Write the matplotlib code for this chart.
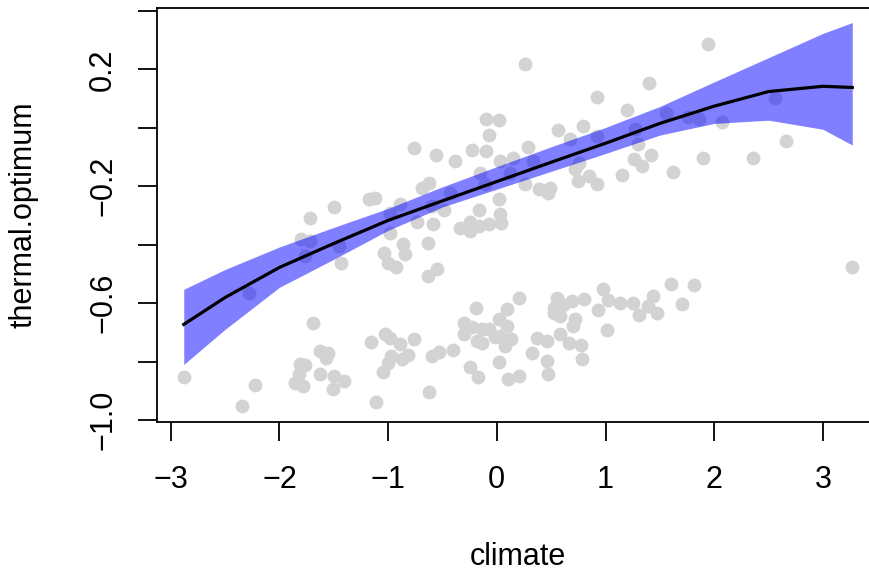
import numpy as np
import matplotlib
matplotlib.use("Agg")
from matplotlib import pyplot as plt

# observed points, upper group (around the fitted curve)
upper_climate = [
    -1.72, -1.50, -1.18, -1.12, -0.89, -1.80, -1.72, -1.76, -1.45, -1.43,
    -2.28, -1.04, -1.00, -0.93, -0.98, -0.86, -0.84, -0.98,
    0.26, 0.92, 1.40, 1.20, -0.10, 0.02, -0.07, -0.76, -0.56, -0.38,
    -0.23, -0.10, 0.29, 0.56, 0.79, 0.67, 0.92, 1.27, 1.30, 0.03,
    0.15, -0.15, 0.33, 0.76, 0.72, 0.75, 0.85, 0.92, 1.26, 1.34,
    1.15, 1.42, 0.26, 0.39, 0.47, 0.49, 0.12, -0.69, -0.62, -0.43,
    -0.60, -0.49, -0.73, -0.59, -0.16, 0.02, 0.03, -0.34, -0.25, -0.25,
    -0.16, -0.07, 0.04, -0.63, -0.11, -0.63, -0.55,
    1.94, 1.56, 1.76, 1.86, 2.07, 2.56, 2.66, 2.36, 1.90, 1.62,
]
upper_optimum = [
    -0.308, -0.271, -0.245, -0.239, -0.262, -0.380, -0.388, -0.439, -0.405, -0.462,
    -0.564, -0.430, -0.462, -0.475, -0.361, -0.399, -0.433, -0.291,
    0.217, 0.105, 0.152, 0.060, 0.029, 0.025, -0.023, -0.068, -0.094, -0.112,
    -0.077, -0.080, -0.066, -0.009, 0.006, -0.040, -0.028, -0.005, -0.054, -0.114,
    -0.102, -0.154, -0.114, -0.119, -0.142, -0.182, -0.165, -0.194, -0.106, -0.131,
    -0.163, -0.094, -0.194, -0.211, -0.222, -0.205, -0.154, -0.205, -0.188, -0.222,
    -0.268, -0.282, -0.323, -0.331, -0.282, -0.245, -0.296, -0.342, -0.323, -0.354,
    -0.336, -0.331, -0.325, -0.396, -0.194, -0.508, -0.485,
    0.286, 0.052, 0.038, 0.031, 0.020, 0.101, -0.045, -0.102, -0.105, -0.152,
]

# observed points, lower group
lower_climate = [
    -2.88, -2.34, -2.22, -1.69, -1.81, -1.76, -1.82, -1.86, -1.78, -1.63,
    -1.63, -1.55, -1.57, -1.50, -1.41, -1.51, -1.16, -1.03, -0.98, -0.89,
    -0.97, -1.00, -1.05, -0.87, -1.11,
    0.20, 0.09, -0.19, -0.30, -0.23, -0.14, -0.07, 0.02, 0.09, 0.03,
    -0.02, 0.13, 0.08, -0.30, -0.18, -0.14, -0.76, -0.82, -0.60, -0.53,
    -0.40, -0.25, -0.17, 0.02, 0.10, 0.20, -0.62, 0.32, 0.37, 0.46,
    0.46, 0.47, 0.55, 0.53, 0.61, 0.69, 0.53, 0.58, 0.72, 0.70,
    0.58, 0.66, 0.77, 0.78, 0.80, 0.93, 0.98, 1.02, 1.13, 1.25,
    1.31, 1.39, 1.01, 1.44, 1.47, 1.60, 1.81, 1.70, 3.27,
]
lower_optimum = [
    -0.853, -0.953, -0.879, -0.667, -0.810, -0.813, -0.844, -0.873, -0.884, -0.844,
    -0.764, -0.770, -0.787, -0.850, -0.867, -0.893, -0.732, -0.707, -0.719, -0.741,
    -0.782, -0.804, -0.836, -0.793, -0.939,
    -0.584, -0.619, -0.616, -0.667, -0.681, -0.690, -0.690, -0.653, -0.679, -0.713,
    -0.715, -0.722, -0.747, -0.705, -0.730, -0.736, -0.724, -0.776, -0.782, -0.768,
    -0.759, -0.818, -0.852, -0.802, -0.861, -0.848, -0.905, -0.770, -0.719, -0.730,
    -0.799, -0.842, -0.582, -0.616, -0.605, -0.593, -0.633, -0.645, -0.653, -0.679,
    -0.707, -0.736, -0.744, -0.793, -0.585, -0.625, -0.553, -0.590, -0.599, -0.599,
    -0.642, -0.610, -0.693, -0.576, -0.635, -0.534, -0.538, -0.603, -0.475,
]

# fitted curve and confidence band
fit_climate = [-2.88, -2.5, -2.0, -1.5, -1.0, -0.5, 0.0, 0.5, 1.0, 1.5, 2.0, 2.5, 3.0, 3.27]
fit_mean = [-0.673, -0.581, -0.478, -0.396, -0.317, -0.250, -0.184, -0.118, -0.053,
            0.015, 0.074, 0.124, 0.142, 0.138]
fit_upper = [-0.553, -0.485, -0.408, -0.341, -0.276, -0.202, -0.133, -0.065, 0.001,
             0.073, 0.157, 0.240, 0.323, 0.360]
fit_lower = [-0.810, -0.690, -0.546, -0.450, -0.351, -0.271, -0.210, -0.149, -0.088,
             -0.025, 0.015, 0.026, -0.005, -0.059]

x_ticks = [-3, -2, -1, 0, 1, 2, 3]
y_ticks = [0.4, 0.2, 0.0, -0.2, -0.4, -0.6, -0.8, -1.0]
y_ticklabels = ["", "0.2", "", "\u22120.2", "", "\u22120.6", "", "\u22121.0"]

plt.rcParams["font.family"] = ["Liberation Sans", "DejaVu Sans"]

fig = plt.figure(figsize=(8.7, 5.71), dpi=100)
ax = fig.add_axes([157 / 870, 1 - 422 / 571, 722 / 870, 414 / 571])

ax.scatter(upper_climate + lower_climate, upper_optimum + lower_optimum,
           s=100, color="#d3d3d3", linewidths=0, zorder=1)
ax.fill_between(fit_climate, fit_lower, fit_upper, color="blue", alpha=0.5,
                linewidth=0, zorder=2)
ax.plot(fit_climate, fit_mean, color="black", lw=2.3, zorder=3)

ax.set_xlim(-3.126, 3.516)
ax.set_ylim(-1.007, 0.41)

ax.set_xticks(x_ticks)
ax.set_xticklabels(["\u2212" + str(-v) if v < 0 else str(v) for v in x_ticks])
ax.set_yticks(y_ticks)
ax.set_yticklabels(y_ticklabels, rotation=90, va="center")

ax.tick_params(axis="both", direction="out", length=14, width=1.3,
               labelsize=22, color="black")
ax.tick_params(axis="x", pad=17)
ax.tick_params(axis="y", pad=14)
for sp in ax.spines.values():
    sp.set_linewidth(1.3)

fig.text(518 / 870, 1 - 565 / 571, "climate", ha="center", va="baseline",
         fontsize=22)
fig.text(23.6 / 870, 1 - 215 / 571, "thermal.optimum", ha="center", va="center",
         rotation=90, fontsize=22)

fig.savefig("out.png", dpi=100)
